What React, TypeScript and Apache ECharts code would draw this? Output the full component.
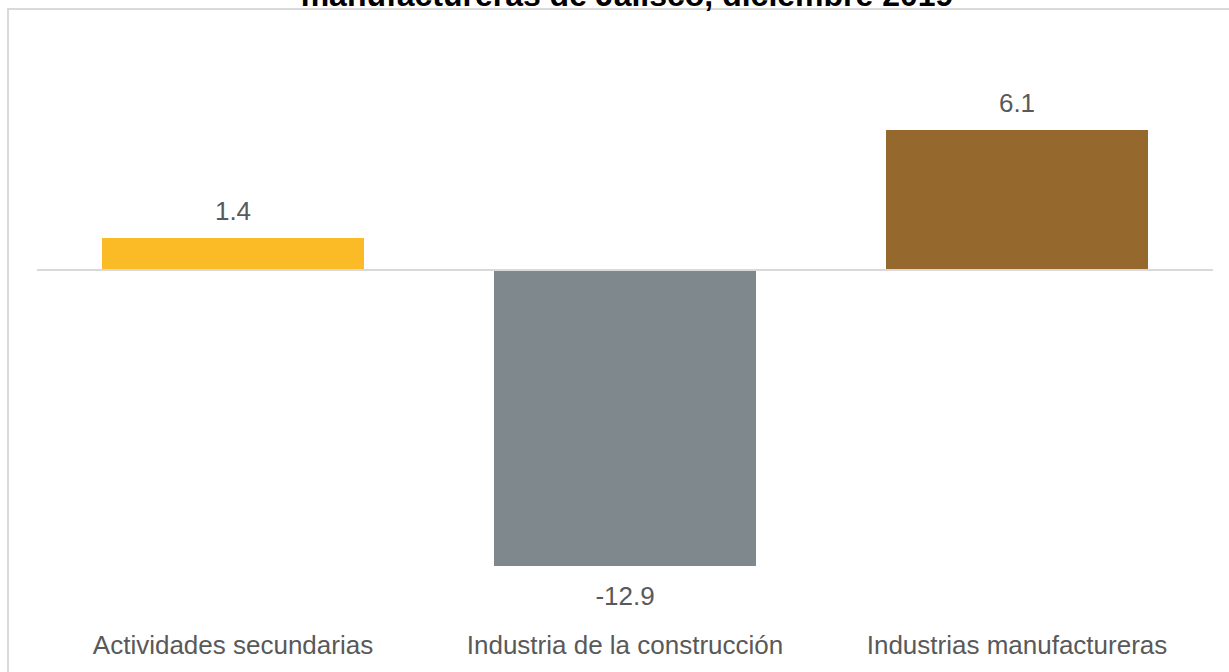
import React, { useEffect, useRef } from "react";
import * as echarts from "echarts";

const titleText = "manufactureras de Jalisco, diciembre 2019";
const categories = ["Actividades secundarias", "Industria de la construcción", "Industrias manufactureras"];
const values = [1.4, -12.9, 6.1];
const barColors = ["#FBBB27", "#7F888D", "#95682E"];

const FONT = "'Liberation Sans', Arial, sans-serif";

export default function App() {
  const ref = useRef<HTMLDivElement>(null);
  useEffect(() => {
    document.body.style.margin = "0";
    const chart = echarts.init(ref.current!, null, { renderer: "svg" });
    chart.setOption({
      animation: false,
      backgroundColor: "#ffffff",
      graphic: [
        {
          type: "rect",
          shape: { x: 8, y: 9, width: 1240, height: 700 },
          style: { fill: "none", stroke: "#d9d9d9", lineWidth: 2 },
          silent: true,
        },
        {
          type: "text",
          x: 627,
          y: 11,
          style: {
            text: titleText,
            fill: "#000000",
            font: `bold 32px ${FONT}`,
            textAlign: "center",
            textVerticalAlign: "bottom",
          },
        },
      ],
      grid: { left: 37, right: 16, top: 40.5, bottom: 57.7, containLabel: false },
      xAxis: {
        type: "category",
        data: categories,
        axisLine: { show: false, onZero: false },
        axisTick: { show: false },
        axisLabel: { fontSize: 26, color: "#595959", fontFamily: FONT, margin: 18, interval: 0 },
        splitLine: { show: false },
      },
      yAxis: {
        type: "value",
        min: -15,
        max: 10,
        interval: 5,
        show: false,
        splitLine: { show: false },
      },
      series: [
        {
          type: "bar",
          barWidth: 262,
          data: values.map((v, i) => ({
            value: v,
            itemStyle: { color: barColors[i] },
            label: {
              position: v >= 0 ? "top" : "bottom",
              distance: v >= 0 ? 14 : 17,
            },
          })),
          label: {
            show: true,
            fontSize: 26,
            color: "#595959",
            fontFamily: FONT,
            formatter: (p: any) => Number(p.value).toFixed(1),
          },
          markLine: {
            silent: true,
            symbol: ["none", "none"],
            label: { show: false },
            lineStyle: { color: "#d9d9d9", width: 2, type: "solid" },
            data: [{ yAxis: 0 }],
          },
        },
      ],
    });
    return () => chart.dispose();
  }, []);
  return (
    <div
      ref={ref}
      style={{ position: "fixed", left: 0, top: 0, width: 1229, height: 672 }}
    />
  );
}
